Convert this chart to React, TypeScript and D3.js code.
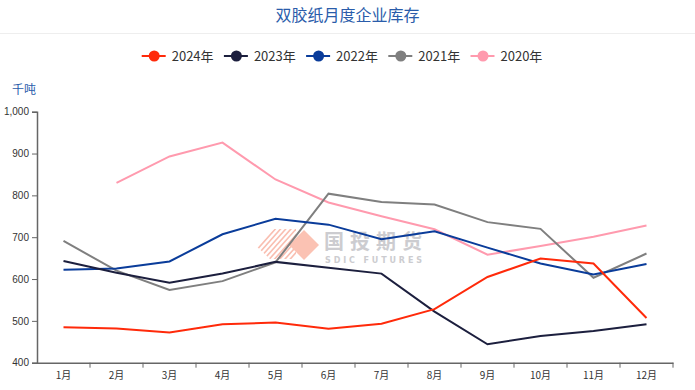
import React from "react";
import * as d3 from "d3";

const months = ["1月", "2月", "3月", "4月", "5月", "6月", "7月", "8月", "9月", "10月", "11月", "12月"];
const yTicks = [400, 500, 600, 700, 800, 900, 1000];

const v2024 = [485, 482, 472, 492, 496, 481, 493, 528, 605, 649, 637, 507];
const v2023 = [643, 615, 591, 613, 641, 627, 613, 522, 444, 464, 476, 492];
const v2022 = [622, 625, 642, 707, 744, 730, 695, 714, 675, 637, 611, 636];
const v2021 = [691, 620, 574, 595, 640, 804, 784, 778, 736, 720, 603, 661];
const v2020 = [null, 830, 893, 926, 838, 783, 750, 719, 658, 679, 701, 728];

const seriesNames = ["2024年", "2023年", "2022年", "2021年", "2020年"];
const seriesColors = ["#ff2a0a", "#1c1f3e", "#0a3c9a", "#7f7f7f", "#ff9aae"];

const W = 695;
const H = 390;
const left = 37;
const right = 673;
const top = 111.7;
const bottom = 362.7;
const font = "'Noto Sans CJK SC', 'Noto Sans', sans-serif";

export default function App() {
  const svgRef = React.useRef<SVGSVGElement>(null);

  React.useEffect(() => {
    const svg = d3.select(svgRef.current);
    svg.selectAll("*").remove();

    const x = d3.scaleBand<string>().domain(months).range([left, right]);
    const y = d3.scaleLinear().domain([400, 1000]).range([bottom, top]);
    const allSeries = [v2024, v2023, v2022, v2021, v2020];

    // title
    svg.append("text")
      .attr("x", W / 2).attr("y", 21)
      .attr("text-anchor", "middle")
      .style("font-family", font).style("font-size", "16px")
      .style("fill", "#2a5caa")
      .text("双胶纸月度企业库存");
    svg.append("line")
      .attr("x1", 0).attr("x2", W).attr("y1", 33.5).attr("y2", 33.5)
      .attr("stroke", "#eeeeee");

    // legend
    seriesNames.forEach((name, i) => {
      const lx = 141.7 + i * 82.2;
      const g = svg.append("g").attr("transform", `translate(${lx},56)`);
      g.append("line").attr("x1", 0).attr("x2", 24).attr("y1", 0).attr("y2", 0)
        .attr("stroke", seriesColors[i]).attr("stroke-width", 2);
      g.append("circle").attr("cx", 12.5).attr("cy", 0).attr("r", 5.5).attr("fill", seriesColors[i]);
      g.append("text").attr("x", 30).attr("y", 4.5)
        .style("font-family", font).style("font-size", "13px").style("fill", "#333")
        .text(name);
    });

    // unit
    svg.append("text").attr("x", 12).attr("y", 94)
      .style("font-family", font).style("font-size", "12px").style("fill", "#2a5caa")
      .text("千吨");

    // watermark
    const wm = svg.append("g").attr("opacity", 0.85);
    const clipId = "wmclip";
    svg.append("defs").append("clipPath").attr("id", clipId)
      .append("polygon").attr("points", "254,244 274,229 296,229 296,259 270,259");
    const stripes = wm.append("g").attr("clip-path", `url(#${clipId})`);
    for (let i = 0; i < 9; i++) {
      const sx = 246 + i * 5.2;
      stripes.append("line")
        .attr("x1", sx).attr("y1", 262).attr("x2", sx + 32).attr("y2", 226)
        .attr("stroke", "#f9b3a3").attr("stroke-width", 1.6);
    }
    wm.append("polygon")
      .attr("points", "304,230 319,245 304,260 289,245")
      .attr("fill", "#fbb8a6");
    wm.append("text").attr("x", 324).attr("y", 249)
      .style("font-family", font).style("font-size", "20px").style("font-weight", "bold")
      .style("fill", "#c4c4c8").attr("textLength", 98)
      .text("国投期货");
    wm.append("text").attr("x", 325).attr("y", 263)
      .style("font-family", "'DejaVu Sans', sans-serif").style("font-size", "8px").style("font-weight", "bold")
      .style("fill", "#c4c4c8").attr("textLength", 97)
      .text("SDIC FUTURES");

    // series
    const line = d3.line<number | null>()
      .defined(d => d !== null)
      .x((_, i) => (x(months[i]) as number) + x.bandwidth() / 2)
      .y(d => y(d as number));
    [4, 3, 2, 1, 0].forEach(i => {
      svg.append("path")
        .datum(allSeries[i])
        .attr("d", line)
        .attr("fill", "none")
        .attr("stroke", seriesColors[i])
        .attr("stroke-width", 2);
    });

    // y axis
    const yAxis = svg.append("g").attr("transform", `translate(${left},0)`)
      .call(d3.axisLeft(y).tickValues(yTicks).tickFormat(d3.format(",")).tickSize(5).tickPadding(3));
    yAxis.select(".domain").attr("stroke", "#666").attr("stroke-width", 1.5);
    yAxis.selectAll(".tick line").attr("stroke", "#666");
    yAxis.selectAll("text").style("font-family", "'Liberation Sans', Arial, sans-serif")
      .style("font-size", "10px").style("fill", "#333");

    // x axis
    const xAxis = svg.append("g").attr("transform", `translate(0,${bottom})`)
      .call(d3.axisBottom(x).tickSize(0).tickPadding(9));
    xAxis.select(".domain").attr("stroke", "#666").attr("stroke-width", 1.5);
    xAxis.selectAll("text").style("font-family", font)
      .style("font-size", "10px").style("fill", "#333");
    const bounds = months.map(m => (x(m) as number) + x.bandwidth());
    xAxis.selectAll(".bound").data(bounds).enter().append("line")
      .attr("x1", d => d).attr("x2", d => d).attr("y1", 0).attr("y2", 5)
      .attr("stroke", "#666");
  }, []);

  return (
    <svg ref={svgRef} width={W} height={H}
      style={{ position: "absolute", left: 0, top: 0, background: "#fff" }} />
  );
}
